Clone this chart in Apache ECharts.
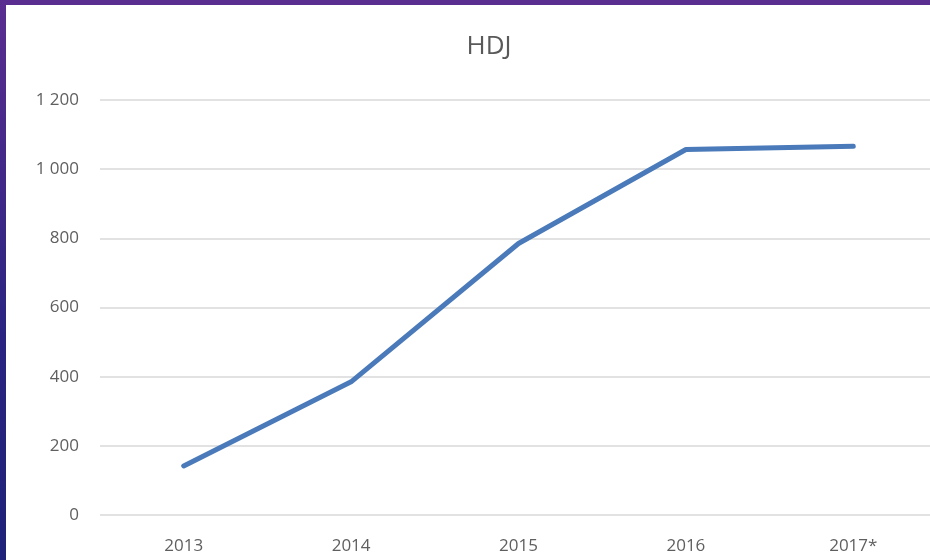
<!DOCTYPE html>
<html>
<head>
<meta charset="utf-8">
<script src="https://cdn.jsdelivr.net/npm/echarts@6/dist/echarts.min.js"></script>
<style>
html, body { margin: 0; padding: 0; background: #fff; }
#wrap { position: relative; width: 930px; height: 560px; overflow: hidden; }
#chart { position: absolute; left: 0; top: 0; width: 930px; height: 560px; }
#topBar { position: absolute; left: 0; top: 0; width: 930px; height: 5px; background: #5a2d91; }
#leftBar { position: absolute; left: 0; top: 0; width: 6px; height: 560px; background: linear-gradient(#5a2d91, #2a2480 60%, #1e2278); }
</style>
</head>
<body>
<div id="wrap">
  <div id="chart"></div>
  <div id="topBar"></div>
  <div id="leftBar"></div>
</div>
<script>
// data
var years = ['2013', '2014', '2015', '2016', '2017*'];
var hdjValues = [142, 385, 785, 1057, 1066];

var chartDom = document.getElementById('chart');
var myChart = echarts.init(chartDom);

function fmtThousands(v) {
    return String(v).replace(/\B(?=(\d{3})+(?!\d))/g, ' ');
}

var option = {
    animation: false,
    title: {
        text: 'HDJ',
        left: 484,
        textAlign: 'center',
        top: 29,
        textStyle: { color: '#595959', fontSize: 26, fontWeight: 'normal', fontFamily: 'Open Sans' }
    },
    grid: { left: 100, width: 837, top: 100, bottom: 45, outerBoundsMode: 'none', containLabel: false },
    xAxis: {
        type: 'category',
        data: years,
        boundaryGap: true,
        axisLine: { show: false },
        axisTick: { show: false },
        axisLabel: { color: '#5f5f5f', fontSize: 17, margin: 23, fontFamily: 'Open Sans' }
    },
    yAxis: {
        type: 'value',
        min: 0,
        max: 1200,
        interval: 200,
        axisLine: { show: false },
        axisTick: { show: false },
        axisLabel: { color: '#5f5f5f', fontSize: 17, margin: 21, fontFamily: 'Open Sans', formatter: fmtThousands },
        splitLine: { lineStyle: { color: '#d9d9d9', width: 1.5 } }
    },
    series: [{
        name: 'HDJ',
        type: 'line',
        data: hdjValues,
        showSymbol: false,
        lineStyle: { color: '#4a7ab9', width: 5, cap: 'round' }
    }]
};
myChart.setOption(option);

window.onresize = function () {
    myChart.resize();
};
</script>
</body>
</html>
